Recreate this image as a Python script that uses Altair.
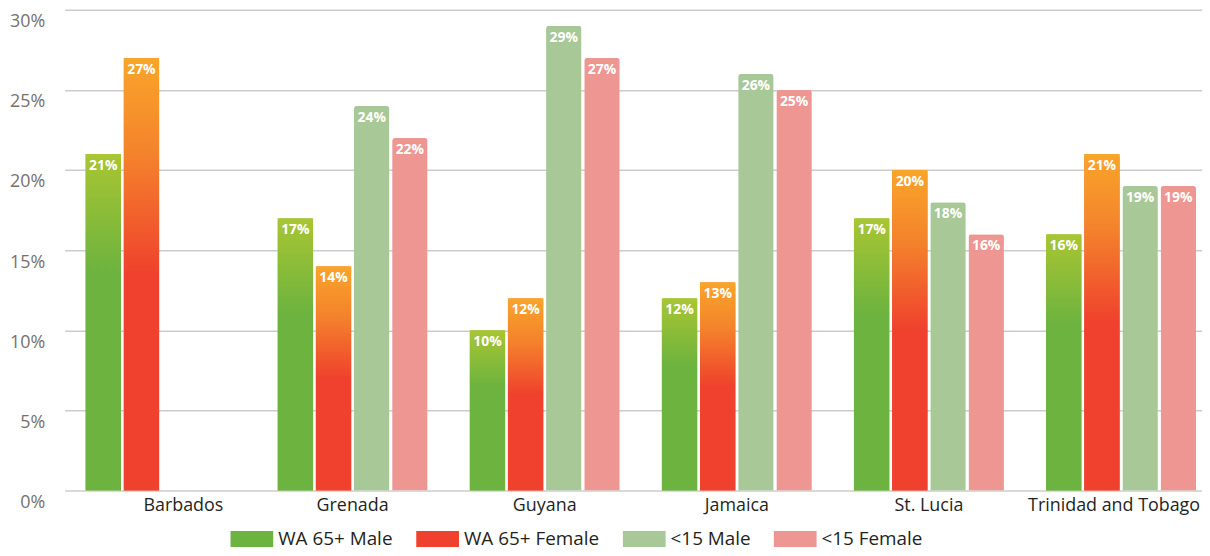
import altair as alt
import pandas as pd

countries = ["Barbados", "Grenada", "Guyana", "Jamaica", "St. Lucia", "Trinidad and Tobago"]
series = ["WA 65+ Male", "WA 65+ Female", "<15 Male", "<15 Female"]
wa_male = [21, 17, 10, 12, 17, 16]
wa_female = [27, 14, 12, 13, 20, 21]
u15_male = [None, 24, 29, 26, 18, 19]
u15_female = [None, 22, 27, 25, 16, 19]
y_ticks = [0, 5, 10, 15, 20, 25, 30]

colors = ["#6db33f", "#ef412d", "#a8c897", "#ee9691"]

rows = []
for s, vals in zip(series, [wa_male, wa_female, u15_male, u15_female]):
    for c, v in zip(countries, vals):
        if v is not None:
            rows.append({"country": c, "series": s, "value": v})
df = pd.DataFrame(rows)

FONT = "Open Sans"

x_enc = alt.X(
    "country:N", sort=countries, title=None,
    scale=alt.Scale(paddingInner=0.219, paddingOuter=0.0698, align=0.778),
    axis=alt.Axis(
        labelAngle=0, labelFontSize=18, labelColor="#231f20", labelFont=FONT,
        labelPadding=6, ticks=False, domain=False,
        labelOffset={
            "condition": [
                {"test": "datum.value == 'Barbados'", "value": 23},
                {"test": "datum.value == 'Trinidad and Tobago'", "value": -7},
            ],
            "value": 0,
        },
    ),
)
xo_enc = alt.XOffset("series:N", sort=series, scale=alt.Scale(domain=series, paddingInner=0.07))
y_enc = alt.Y(
    "value:Q", title=None,
    scale=alt.Scale(domain=[0, 30], nice=False),
    axis=alt.Axis(
        values=y_ticks, labelExpr="datum.value + '%'", labelFontSize=18,
        labelColor="#77716c", labelFont=FONT, labelPadding=20, labelOffset=12,
        ticks=False, domain=False, gridColor="#cccccc", gridWidth=1.5,
    ),
)

base = alt.Chart(df).encode(x=x_enc, xOffset=xo_enc, y=y_enc)

bars = base.mark_bar(cornerRadiusTopLeft=3, cornerRadiusTopRight=3).encode(
    color=alt.Color(
        "series:N", sort=series,
        scale=alt.Scale(domain=series, range=colors),
        legend=alt.Legend(
            title=None, orient="none", direction="horizontal",
            legendX=167, legendY=511,
            symbolType="M-1,-0.372H1V0.372H-1Z", symbolSize=1849,
            symbolStrokeWidth=0, symbolOpacity=1,
            labelFontSize=19, labelFont=FONT, labelColor="#231f20",
            labelOffset=5, columnPadding=23, padding=0,
        ),
    )
)

green_grad = alt.Gradient(
    gradient="linear", x1=0, x2=0, y1=0, y2=1,
    stops=[alt.GradientStop(color="#a9c532", offset=0),
           alt.GradientStop(color="#6db33f", offset=0.35),
           alt.GradientStop(color="#6db33f", offset=1)],
)
orange_grad = alt.Gradient(
    gradient="linear", x1=0, x2=0, y1=0, y2=1,
    stops=[alt.GradientStop(color="#f9a52a", offset=0),
           alt.GradientStop(color="#f4832c", offset=0.22),
           alt.GradientStop(color="#ef412d", offset=0.5),
           alt.GradientStop(color="#ef412d", offset=1)],
)

green_bars = base.mark_bar(fill=green_grad).transform_filter(alt.datum.series == series[0])
orange_bars = base.mark_bar(fill=orange_grad).transform_filter(alt.datum.series == series[1])

labels = base.mark_text(
    baseline="top", dy=5, color="white", fontWeight="bold", fontSize=14, font=FONT
).transform_calculate(lbl="datum.value + '%'").encode(text="lbl:N")

chart = alt.layer(bars, green_bars, orange_bars, labels).properties(
    width=1145, height=484,
    autosize=alt.AutoSizeParams(type="none"),
    padding={"left": 57, "top": 0, "right": 0, "bottom": 62},
).configure_view(stroke=None)

chart.save("out.html", embed_options={"renderer": "svg", "actions": False})
